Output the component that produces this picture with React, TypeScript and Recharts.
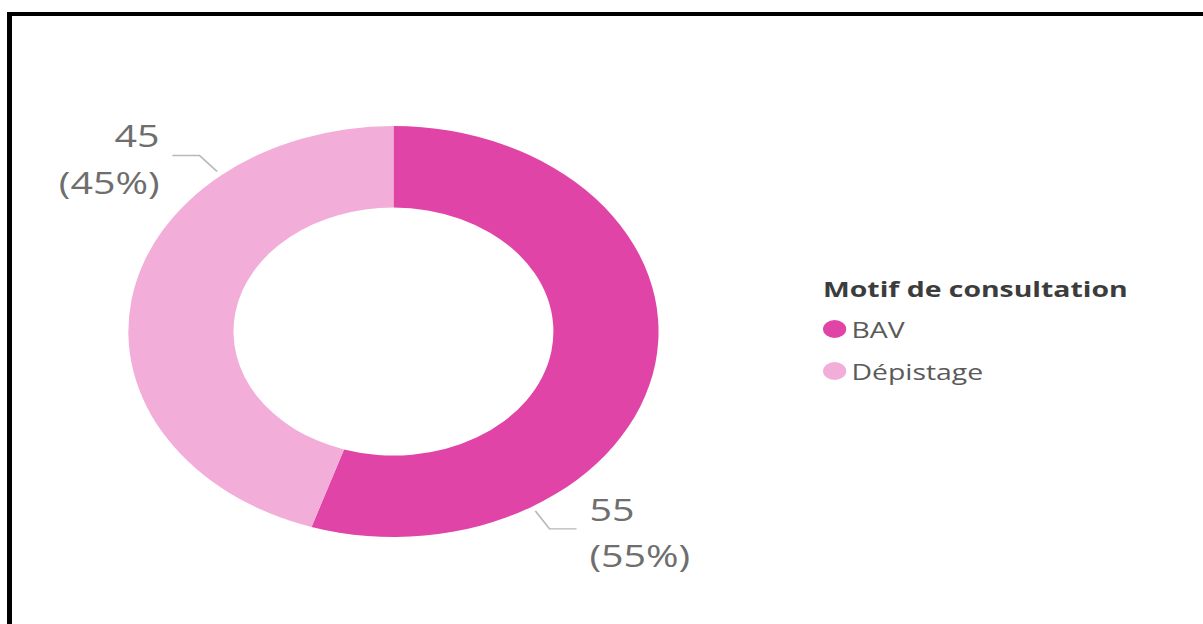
import { PieChart, Pie, Cell, Legend } from "recharts";

// consultations by reason
const motifs = ["BAV", "Dépistage"];
const consultations = [55, 45];
const couleurs = ["#E044A7", "#F2AED8"];

const data = motifs.map((name, i) => ({ name, value: consultations[i] }));

// the whole visual is drawn narrow, then stretched sideways
const STRETCH = 1.29;
const PAGE_W = 1203;
const PAGE_H = 624;
const CHART_W = Math.round(PAGE_W / STRETCH);

const FONT = '"Segoe UI", "Open Sans", sans-serif';
const RADIAN = Math.PI / 180;

// leader lines sit three quarters of the way round each slice
function renderLabel(props: any) {
  const { cx, cy, outerRadius, startAngle, endAngle, value, percent } = props;
  const angle = startAngle + 0.75 * (endAngle - startAngle);
  const cos = Math.cos(-angle * RADIAN);
  const sin = Math.sin(-angle * RADIAN);
  const x0 = cx + (outerRadius + 5) * cos;
  const y0 = cy + (outerRadius + 5) * sin;
  const x1 = cx + (outerRadius + 26) * cos;
  const y1 = cy + (outerRadius + 26) * sin;
  const right = x1 > cx;
  const x2 = x1 + (right ? 21 : -21);
  const tx = x2 + (right ? 10 : -10);
  return (
    <g>
      <path
        d={`M${x0},${y0}L${x1},${y1}L${x2},${y1}`}
        stroke="#b8b8b8"
        strokeWidth={1.4}
        fill="none"
      />
      <text
        x={tx}
        textAnchor={right ? "start" : "end"}
        fill="#6e6e6e"
        fontSize={30.5}
        fontFamily={FONT}
      >
        <tspan x={tx} y={y1 - 8}>
          {value}
        </tspan>
        <tspan x={tx} y={y1 + 38.5}>
          ({Math.round(percent * 100)}%)
        </tspan>
      </text>
    </g>
  );
}

function MotifLegend({ payload }: any) {
  const items = payload && payload.length ? payload : motifs.map((m, i) => ({ value: m, color: couleurs[i] }));
  return (
    <div style={{ fontFamily: FONT }}>
      <div
        style={{
          fontWeight: 700,
          fontSize: 22,
          lineHeight: "24px",
          color: "#3c3c3c",
          marginBottom: 7.5,
          whiteSpace: "nowrap",
        }}
      >
        Motif de consultation
      </div>
      {items.map((entry: any, i: number) => (
        <div
          key={entry.value}
          style={{ display: "flex", alignItems: "center", height: 42 }}
        >
          <span
            style={{
              display: "inline-block",
              width: 18,
              height: 18,
              borderRadius: "50%",
              background: entry.color || couleurs[i],
              marginRight: 4,
            }}
          />
          <span style={{ fontSize: 22, color: "#5a5a5a" }}>{entry.value}</span>
        </div>
      ))}
    </div>
  );
}

export default function App() {
  return (
    <div
      style={{
        position: "fixed",
        left: 0,
        top: 0,
        width: PAGE_W,
        height: PAGE_H,
        background: "#ffffff",
        overflow: "hidden",
      }}
    >
      <div
        style={{
          position: "absolute",
          left: 0,
          top: 0,
          width: CHART_W,
          height: PAGE_H,
          transform: `scaleX(${STRETCH})`,
          transformOrigin: "0 0",
        }}
      >
        <PieChart width={CHART_W} height={PAGE_H} margin={{ top: 0, right: 0, bottom: 0, left: 0 }}>
          <Pie
            data={data}
            dataKey="value"
            nameKey="name"
            cx={305}
            cy={331.5}
            innerRadius={124}
            outerRadius={205.5}
            startAngle={90}
            endAngle={-270}
            stroke="none"
            label={renderLabel}
            labelLine={false}
            isAnimationActive={false}
          >
            {data.map((d, i) => (
              <Cell key={d.name} fill={couleurs[i]} />
            ))}
          </Pie>
          <Legend
            content={<MotifLegend />}
            wrapperStyle={{ position: "absolute", left: 638, top: 276, width: 260 }}
          />
        </PieChart>
      </div>
      <div
        style={{
          position: "absolute",
          left: 7,
          top: 12,
          right: -10,
          bottom: -10,
          borderLeft: "5px solid #000",
          borderTop: "4px solid #000",
        }}
      />
    </div>
  );
}
